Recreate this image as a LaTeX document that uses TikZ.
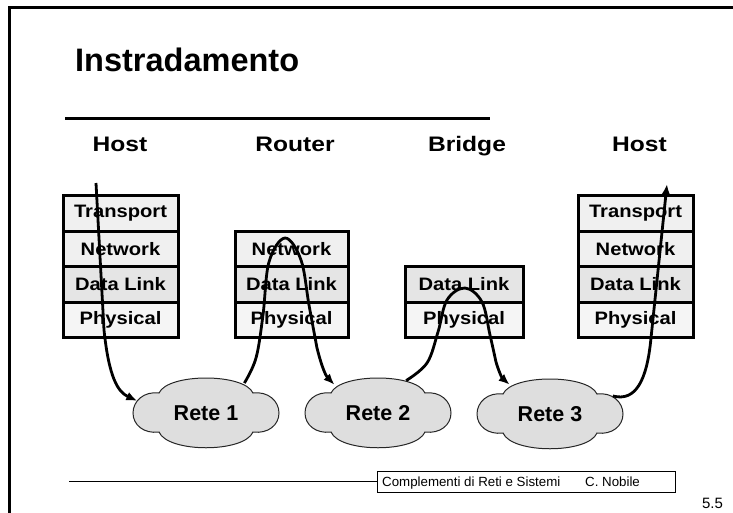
\documentclass[tikz,border=0pt]{standalone}
\usepackage{fontspec}
\usepackage{graphicx}
\setmainfont{Liberation Sans}
\usetikzlibrary{arrows.meta,shapes.geometric}
\definecolor{rowT}{gray}{0.94}
\definecolor{rowN}{gray}{0.94}
\definecolor{rowD}{gray}{0.90}
\definecolor{rowP}{gray}{0.96}
\definecolor{cloudgray}{gray}{0.87}
\newcommand{\stklbl}[1]{\scalebox{1.12}[1]{#1}}
\newcommand{\headlbl}[1]{\scalebox{1.17}[1]{#1}}
\begin{document}
\begin{tikzpicture}[x=1pt,y=-1pt,
  lay/.style={draw=black, line width=3pt, inner sep=0pt, minimum height=35.6pt,
    font=\bfseries\fontsize{18}{20}\selectfont},
  head/.style={anchor=base, inner sep=0pt, font=\bfseries\fontsize{21}{24}\selectfont},
  rete/.style={ellipse, minimum width=146pt, minimum height=70pt, inner sep=0pt,
    font=\bfseries\fontsize{21.5}{24}\selectfont},
  conn/.style={line width=2.8pt, -{Latex[length=11pt,width=9pt]}},
  cloudpic/.pic={
    \path[draw=black!85, line width=1pt, fill=cloudgray]
      (-47,-20) .. controls (-38,-40) and (38,-40) .. (47,-20)
      .. controls (62,-22) and (73,-12) .. (73,0)
      .. controls (73,12) and (62,21) .. (47,19)
      .. controls (38,40) and (-38,40) .. (-47,19)
      .. controls (-62,21) and (-73,12) .. (-73,0)
      .. controls (-73,-12) and (-62,-22) .. (-47,-20) -- cycle;
  }]
\useasboundingbox (0,0) rectangle (733,512);

% frame
\draw[line width=3pt] (9,513) -- (9,7.5) -- (734,7.5);

% title and rule
\node[anchor=base west, inner sep=0pt, font=\bfseries\fontsize{32.5}{38}\selectfont] (title) at (75,71) {Instradamento};
\coordinate (ruleA) at (65,118.5);
\coordinate (ruleB) at (490,118.5);
\draw[line width=3.5pt] (ruleA) -- (ruleB);

% headings
\node[head] (hHost1) at (120,151) {\headlbl{Host}};
\node[head] (hRouter) at (295,151) {\headlbl{Router}};
\node[head] (hBridge) at (467,151) {\headlbl{Bridge}};
\node[head] (hHost2) at (639.5,151) {\headlbl{Host}};

% left host stack
\node[lay, minimum width=115pt, fill=rowT] (h1T) at (120.5,213.3) {\stklbl{Transport}};
\node[lay, minimum width=115pt, fill=rowN] (h1N) at (120.5,248.9) {\stklbl{Network}};
\node[lay, minimum width=115pt, fill=rowD] (h1D) at (120.5,284.5) {\stklbl{Data Link}};
\node[lay, minimum width=115pt, fill=rowP] (h1P) at (120.5,320.1) {\stklbl{Physical}};

% router stack
\node[lay, minimum width=113pt, fill=rowN] (rN) at (291.5,248.9) {\stklbl{Network}};
\node[lay, minimum width=113pt, fill=rowD] (rD) at (291.5,284.5) {\stklbl{Data Link}};
\node[lay, minimum width=113pt, fill=rowP] (rP) at (291.5,320.1) {\stklbl{Physical}};

% bridge stack
\node[lay, minimum width=118pt, fill=rowD] (bD) at (464,284.5) {\stklbl{Data Link}};
\node[lay, minimum width=118pt, fill=rowP] (bP) at (464,320.1) {\stklbl{Physical}};

% right host stack
\node[lay, minimum width=115pt, fill=rowT] (h2T) at (635.5,213.3) {\stklbl{Transport}};
\node[lay, minimum width=115pt, fill=rowN] (h2N) at (635.5,248.9) {\stklbl{Network}};
\node[lay, minimum width=115pt, fill=rowD] (h2D) at (635.5,284.5) {\stklbl{Data Link}};
\node[lay, minimum width=115pt, fill=rowP] (h2P) at (635.5,320.1) {\stklbl{Physical}};

% clouds
\pic at (206,413) {cloudpic};
\pic at (378,413) {cloudpic};
\pic at (550,414) {cloudpic};
\node[rete] (r1) at (206,413) {Rete 1};
\node[rete] (r2) at (378,413) {Rete 2};
\node[rete] (r3) at (550,414) {Rete 3};

% arrows
\coordinate (a1s) at (96,183);
\coordinate (a4e) at (667,184);
\draw[conn] (a1s) -- (104,330) .. controls (109,378) and (118,392) .. (r1.170);
\draw[conn] plot[smooth, tension=0.6] coordinates {(r1.38) (256,358) (263,315) (269,262) (285,238) (301,260) (309,305) (317,348)} .. controls (322,368) and (326,376) .. (r2.147);
\draw[conn] plot[smooth, tension=0.6] coordinates {(r2.49) (427,363) (438,332) (447,300) (465,288) (482,302) (490,335) (496,362)} .. controls (499,372) and (502,378) .. (r3.144.5);
\draw[conn] (r3.16) .. controls (636,402) and (647,380) .. (651,338) -- (a4e);

% footer
\node[draw=black, line width=1pt, minimum width=298pt, minimum height=21pt, inner sep=0pt] (fbox) at (526,481.5) {};
\coordinate (fl) at (69,481.5);
\draw[line width=1pt] (fl) -- (fbox.west);
\node[anchor=base west, inner sep=0pt, font=\fontsize{13.3}{15}\selectfont] (ft1) at (382,486) {Complementi di Reti e Sistemi};
\node[anchor=base west, inner sep=0pt, font=\fontsize{13.3}{15}\selectfont] (ft2) at (585,486) {C. Nobile};
\node[anchor=base, inner sep=0pt, font=\fontsize{15}{17}\selectfont] (pg) at (712.5,508.5) {5.5};
\end{tikzpicture}
\end{document}
